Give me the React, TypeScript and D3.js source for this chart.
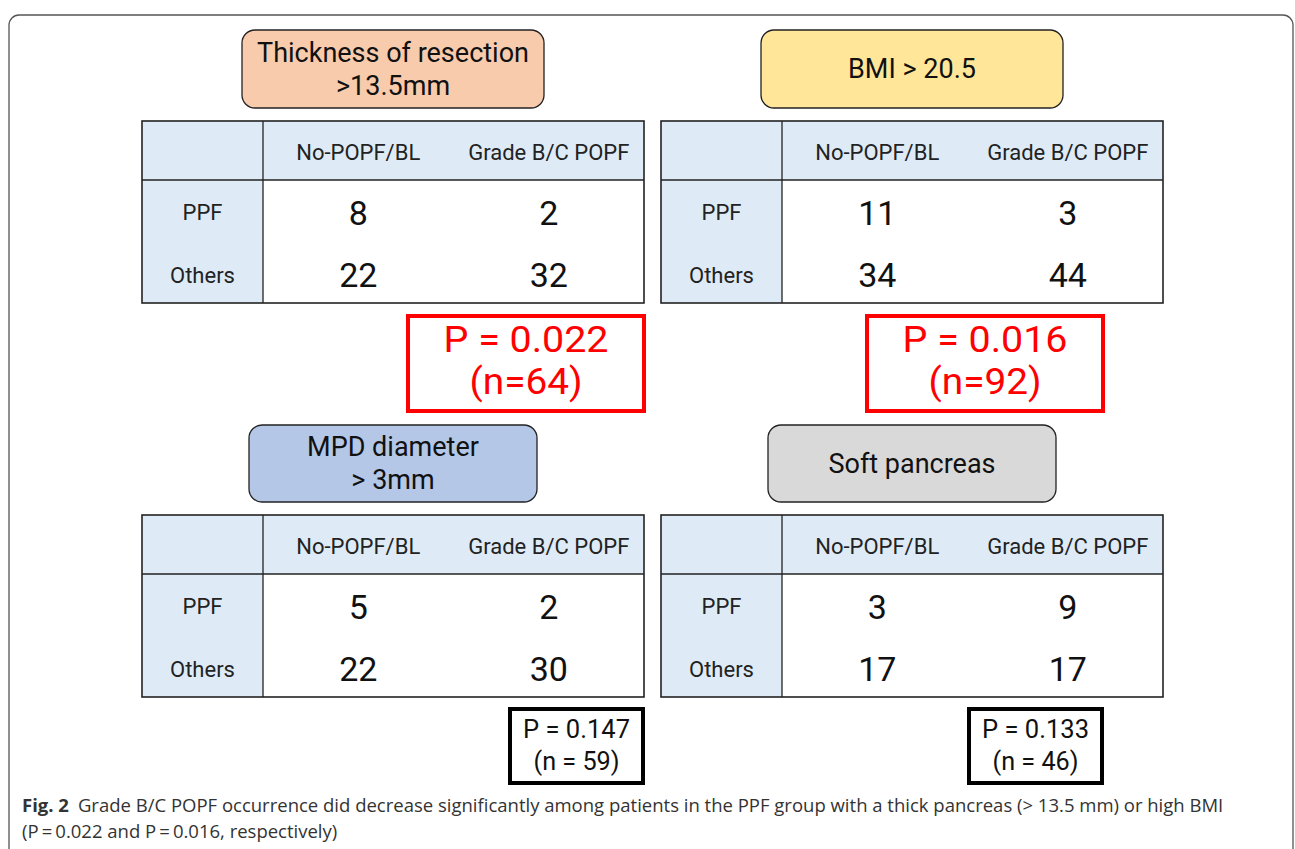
import * as d3 from "d3";

// panel order: top-left, top-right, bottom-left, bottom-right
const panelTitles = [
  ["Thickness of resection", ">13.5mm"],
  ["BMI > 20.5"],
  ["MPD diameter", "> 3mm"],
  ["Soft pancreas"],
];
const titleFills = ["#f8cbad", "#ffe699", "#b4c7e7", "#d9d9d9"];
const columnLabels = ["No-POPF/BL", "Grade B/C POPF"];
const rowLabels = ["PPF", "Others"];
const ppfCounts = [
  [8, 2],
  [11, 3],
  [5, 2],
  [3, 9],
];
const othersCounts = [
  [22, 32],
  [34, 44],
  [22, 30],
  [17, 17],
];
const pValues = ["0.022", "0.016", "0.147", "0.133"];
const nTotals = [64, 92, 59, 46];
const significant = [true, true, false, false];

const captionBold = "Fig. 2";
const captionLines = [
  "Grade B/C POPF occurrence did decrease significantly among patients in the PPF group with a thick pancreas (> 13.5 mm) or high BMI",
  "(P\u2009=\u20090.022 and P\u2009=\u20090.016, respectively)",
];

const W = 1295;
const H = 849;
const FONT = "Roboto, 'Noto Sans', sans-serif";

const App = () => {
  // panel grid
  const px = d3.scaleOrdinal<number, number>().domain([0, 1]).range([142, 661]);
  const py = d3.scaleOrdinal<number, number>().domain([0, 1]).range([121, 515]);
  // p-value boxes sit at a different horizontal pitch than the tables
  const pboxShift = d3.scaleOrdinal<number, number>().domain([0, 1]).range([0, -60]);

  const tableW = 502;
  const firstColW = 121;
  const headerH = 59;
  const bodyH = 123;

  const colX = d3.scaleBand<string>().domain(columnLabels).range([firstColW, tableW]);
  const rowY = d3.scaleBand<string>().domain(rowLabels).range([headerH, headerH + bodyH]);

  return (
    <svg width={W} height={H} style={{ position: "absolute", left: 0, top: 0, background: "#fff" }}>
      {/* outer frame */}
      <rect x={9} y={15} width={1284} height={860} rx={10} fill="none" stroke="#555" strokeWidth={1.3} />

      {panelTitles.map((title, i) => {
        const gx = px(i % 2);
        const gy = py(Math.floor(i / 2));
        const top = i < 2;
        const tb = top
          ? { x: 100, y: -91, w: 302, h: 78 }
          : { x: 107, y: -90, w: 288, h: 77 };
        const sig = significant[i];
        const shift = pboxShift(i % 2);
        const pb = sig
          ? { x: 266 + shift, y: 195, w: 236, h: 95 }
          : { x: 368 + shift, y: 194, w: 133, h: 74 };
        return (
          <g key={i} transform={`translate(${gx},${gy})`} fontFamily={FONT}>
            {/* title box */}
            <rect x={tb.x} y={tb.y} width={tb.w} height={tb.h} rx={13} fill={titleFills[i]} stroke="#222" strokeWidth={1.3} />
            {title.map((t, k) => (
              <text
                key={k}
                x={tb.x + tb.w / 2}
                y={tb.y + tb.h / 2 + (k - (title.length - 1) / 2) * 33}
                textAnchor="middle"
                dominantBaseline="central"
                fontSize={27}
                fill="#111"
              >
                {t}
              </text>
            ))}

            {/* table */}
            <rect x={0} y={0} width={tableW} height={headerH} fill="#deebf7" />
            <rect x={0} y={headerH} width={firstColW} height={bodyH} fill="#deebf7" />
            <rect x={firstColW} y={headerH} width={tableW - firstColW} height={bodyH} fill="#fff" />
            <line x1={0} x2={tableW} y1={headerH} y2={headerH} stroke="#222" strokeWidth={1.3} />
            <line x1={firstColW} x2={firstColW} y1={0} y2={headerH + bodyH} stroke="#222" strokeWidth={1.3} />
            <rect x={0} y={0} width={tableW} height={headerH + bodyH} fill="none" stroke="#222" strokeWidth={1.6} />

            {columnLabels.map((c) => (
              <text
                key={c}
                x={(colX(c) ?? 0) + colX.bandwidth() / 2}
                y={headerH / 2 + 2}
                textAnchor="middle"
                dominantBaseline="central"
                fontSize={22}
                fill="#222"
              >
                {c}
              </text>
            ))}
            {rowLabels.map((r, ri) => {
              const cy = (rowY(r) ?? 0) + rowY.bandwidth() / 2 + (ri === 0 ? 2 : 3);
              const vals = ri === 0 ? ppfCounts[i] : othersCounts[i];
              return (
                <g key={r}>
                  <text x={firstColW / 2} y={cy} textAnchor="middle" dominantBaseline="central" fontSize={22} fill="#222">
                    {r}
                  </text>
                  {columnLabels.map((c, ci) => (
                    <text
                      key={c}
                      x={(colX(c) ?? 0) + colX.bandwidth() / 2}
                      y={cy}
                      textAnchor="middle"
                      dominantBaseline="central"
                      fontSize={34}
                      fill="#111"
                    >
                      {vals[ci]}
                    </text>
                  ))}
                </g>
              );
            })}

            {/* p-value box */}
            <rect
              x={pb.x}
              y={pb.y}
              width={pb.w}
              height={pb.h}
              fill="#fff"
              stroke={sig ? "#ff0000" : "#000"}
              strokeWidth={4}
            />
            {sig ? (
              <>
                <text x={pb.x + pb.w / 2} y={pb.y + 24} textAnchor="middle" dominantBaseline="central" fontSize={36} fill="#ff0000" textLength={165} lengthAdjust="spacingAndGlyphs">
                  {`P = ${pValues[i]}`}
                </text>
                <text x={pb.x + pb.w / 2} y={pb.y + 66} textAnchor="middle" dominantBaseline="central" fontSize={36} fill="#ff0000" textLength={113} lengthAdjust="spacingAndGlyphs">
                  {`(n=${nTotals[i]})`}
                </text>
              </>
            ) : (
              <>
                <text x={pb.x + pb.w / 2} y={pb.y + 20} textAnchor="middle" dominantBaseline="central" fontSize={26} fill="#111" textLength={107} lengthAdjust="spacingAndGlyphs">
                  {`P = ${pValues[i]}`}
                </text>
                <text x={pb.x + pb.w / 2} y={pb.y + 52} textAnchor="middle" dominantBaseline="central" fontSize={26} fill="#111" textLength={86} lengthAdjust="spacingAndGlyphs">
                  {`(n = ${nTotals[i]})`}
                </text>
              </>
            )}
          </g>
        );
      })}

      {/* caption */}
      <text x={22} y={812} fontFamily="'Open Sans', sans-serif" fontSize={18.5} fill="#333">
        <tspan fontWeight="bold">{captionBold}</tspan>
        <tspan dx={9}>{captionLines[0]}</tspan>
      </text>
      <text x={22} y={838} fontFamily="'Open Sans', sans-serif" fontSize={18.5} fill="#333">
        {captionLines[1]}
      </text>
    </svg>
  );
};

export default App;
